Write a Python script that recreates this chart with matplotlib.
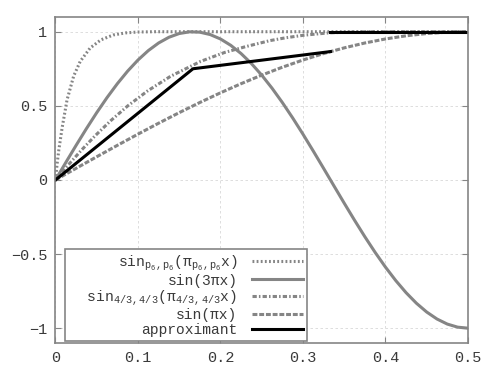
import matplotlib

matplotlib.use("Agg")

import matplotlib.pyplot as plt

plt.rcParams["font.family"] = ["Liberation Mono", "DejaVu Sans Mono"]
plt.rcParams["mathtext.fontset"] = "custom"
plt.rcParams["mathtext.rm"] = "Liberation Mono"
plt.rcParams["mathtext.it"] = "Liberation Mono"

# generalized sine with p = p6 (dotted)
x_p6 = [0, 0.002, 0.004, 0.008, 0.014, 0.022, 0.030, 0.042, 0.055, 0.070,
        0.085, 0.100, 0.120, 0.500]
y_p6 = [0, 0.11, 0.20, 0.35, 0.54, 0.70, 0.80, 0.89, 0.945, 0.978,
        0.992, 0.998, 1.0, 1.0]

# sin(3 pi x), step 0.0125
x_3pi = [i * 0.0125 for i in range(41)]
y_3pi = [0, 0.1175, 0.2334, 0.3461, 0.4540, 0.5556, 0.6494, 0.7343, 0.8090,
         0.8725, 0.9239, 0.9625, 0.9877, 0.9992, 0.9969, 0.9808, 0.9511,
         0.9081, 0.8526, 0.7853, 0.7071, 0.6191, 0.5225, 0.4187, 0.3090,
         0.1951, 0.0785, -0.0393, -0.1564, -0.2714, -0.3827, -0.4886,
         -0.5878, -0.6788, -0.7604, -0.8315, -0.8910, -0.9382, -0.9724,
         -0.9931, -1.0]

# generalized sine with p = 4/3 (dash-dot)
x_p43 = [0, 0.0153, 0.0313, 0.0484, 0.067, 0.0877, 0.1115, 0.1397, 0.176,
         0.205, 0.231, 0.260, 0.280, 0.302, 0.333, 0.370, 0.400, 0.500]
y_p43 = [0, 0.1, 0.2, 0.3, 0.4, 0.5, 0.6, 0.7, 0.8,
         0.86, 0.9, 0.94, 0.96, 0.977, 0.993, 0.999, 1.0, 1.0]

# sin(pi x), step 0.025
x_pi = [i * 0.025 for i in range(21)]
y_pi = [0, 0.0785, 0.1564, 0.2334, 0.3090, 0.3827, 0.4540, 0.5225, 0.5878,
        0.6494, 0.7071, 0.7604, 0.8090, 0.8526, 0.8910, 0.9239, 0.9511,
        0.9724, 0.9877, 0.9969, 1.0]

# piecewise approximant (two pieces)
x_app1 = [0, 1 / 6, 1 / 3]
y_app1 = [0, 0.75, 0.866]
x_app2 = [1 / 3, 0.5]
y_app2 = [1.0, 1.0]

labels = [
    r"sin$_{p_6,p_6}$(π$_{p_6,p_6}$x)",
    "sin(3πx)",
    r"  sin$_{4/3,4/3}$(π$_{4/3,4/3}$x)",
    "sin(πx)",
    "approximant",
]

gray = "#858585"
txt = "#3a3a3a"

fig = plt.figure(figsize=(4.91, 3.77), dpi=100)
ax = fig.add_axes([0.113, 0.0902, 0.840, 0.865])

ax.plot(x_p6, y_p6, color=gray, lw=2.2, dashes=(0.6, 0.75), label=labels[0])
ax.plot(x_3pi, y_3pi, color=gray, lw=2.2, label=labels[1])
ax.plot(x_p43, y_p43, color=gray, lw=2.2, dashes=(1.4, 0.7, 0.5, 0.7), label=labels[2])
ax.plot(x_pi, y_pi, color=gray, lw=2.2, dashes=(1.6, 0.6), label=labels[3])
ax.plot(x_app1, y_app1, color="black", lw=2.2, label=labels[4])
ax.plot(x_app2, y_app2, color="black", lw=2.2)

ax.set_xlim(0, 0.5)
ax.set_ylim(-1.1, 1.1)
ax.set_xticks([0, 0.1, 0.2, 0.3, 0.4, 0.5])
ax.set_xticklabels(["0", "0.1", "0.2", "0.3", "0.4", "0.5"])
ax.set_yticks([-1, -0.5, 0, 0.5, 1])
ax.set_yticklabels(["−1", "−0.5", "0", "0.5", "1"])
ax.tick_params(direction="in", length=4, width=0.8, color=gray,
               top=True, right=True, labelsize=11, labelcolor=txt, pad=6)
for s in ax.spines.values():
    s.set_color(gray)
    s.set_linewidth(1.2)
ax.grid(True, color="#d8d8d8", lw=0.6, ls=(0, (3, 3)))

leg = ax.legend(loc="lower left", bbox_to_anchor=(0.023, 0.005), markerfirst=False,
                fontsize=10.5, labelcolor=txt, frameon=True, fancybox=False,
                edgecolor=gray, framealpha=1, borderpad=0.3, labelspacing=0.05,
                handlelength=3.5, handletextpad=1.0, borderaxespad=0.0)
leg.get_frame().set_linewidth(1.2)
for t in leg.get_texts():
    t.set_ha("right")
leg._legend_box.align = "right"

fig.savefig("out.png", dpi=100)
